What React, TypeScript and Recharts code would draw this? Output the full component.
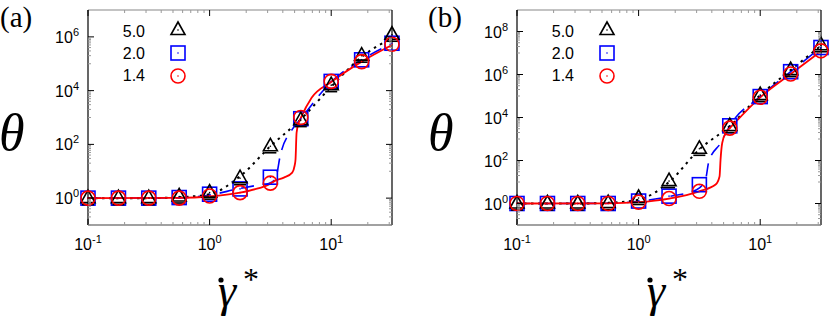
import React from "react"
import { ComposedChart, Line, Scatter, XAxis, YAxis } from "recharts"

// shear rates (quarter decades) shared by both panels
const shearRates = [0.1, 0.178, 0.316, 0.562, 1, 1.78, 3.16, 5.62, 10, 17.8, 31.6]
const seriesLabels = ["5.0", "2.0", "1.4"]

// panel (a): symbols
const thetaA50 = [1, 1, 1, 1.15, 1.6, 5.5, 85, 800, 1.6e4, 2e5, 1.2e6]
const thetaA20 = [1, 1, 1, 1.05, 1.4, 2.2, 6, 900, 2.2e4, 1.4e5, 5.8e5]
const thetaA14 = [1, 1, 1, 1, 1.2, 1.6, 3.6, 1000, 2.2e4, 1.2e5, 5.3e5]
// panel (a): fitted curves [x, y]
const fitA50 = [[0.1, 1], [0.316, 1], [0.562, 1.08], [1, 1.4], [1.78, 6.5], [3.16, 85], [5.62, 850], [10, 1.4e4], [17.8, 1.8e5], [31.6, 9e5]]
const fitA20 = [[0.1, 1], [0.562, 1.02], [1, 1.3], [1.78, 2.3], [2.26, 2.8], [3.06, 3.5], [3.47, 5], [3.83, 43], [4.78, 360], [5.62, 900], [10, 2.1e4], [17.8, 1.4e5], [31.6, 5.6e5]]
const fitA14 = [[0.1, 1], [0.562, 1.02], [1, 1.15], [1.78, 1.6], [2.5, 2.3], [3.16, 3.4], [3.38, 4.2], [4.08, 5.8], [4.78, 8.9], [5.0, 16], [5.09, 28], [5.19, 270], [5.4, 620], [5.62, 950], [6.9, 5400], [10, 2.1e4], [17.8, 1.2e5], [31.6, 5e5]]

// panel (b): symbols
const thetaB50 = [1, 1, 1, 1.05, 1.8, 11, 350, 4000, 1.1e5, 1.6e6, 2.3e7]
const thetaB20 = [1, 1, 1, 1, 1.3, 2.2, 7.5, 4100, 9.4e4, 1.35e6, 1.8e7]
const thetaB14 = [1, 1, 1, 1, 1.15, 1.7, 3.7, 3200, 8.7e4, 1.05e6, 1.26e7]
// panel (b): fitted curves
const fitB50 = [[0.1, 1], [0.316, 1], [0.562, 1.08], [1, 1.5], [1.78, 10], [3.16, 330], [5.62, 4000], [10, 1.1e5], [17.8, 1.6e6], [31.6, 2.2e7]]
const fitB20 = [[0.1, 1], [0.562, 1.02], [1, 1.25], [1.78, 2.1], [3.0, 4.4], [3.55, 13], [3.78, 91], [4.72, 640], [5.62, 4100], [10, 9.4e4], [17.8, 1.35e6], [31.6, 1.8e7]]
const fitB14 = [[0.1, 1], [0.562, 1.02], [1, 1.15], [1.78, 1.7], [3.16, 3.7], [4.3, 7.6], [4.63, 18], [4.72, 110], [4.87, 650], [5.28, 2200], [5.62, 3200], [10, 8.7e4], [17.8, 1.05e6], [31.6, 1.2e7]]

// axes
const xDomain = [0.1, 31.62]
const xMajor = [0.1, 1, 10]
const xMinor = [0.2, 0.3, 0.4, 0.5, 0.6, 0.7, 0.8, 0.9, 2, 3, 4, 5, 6, 7, 8, 9, 20, 30]
const yMajorA = [1, 1e2, 1e4, 1e6]
const yMajorB = [1, 1e2, 1e4, 1e6, 1e8]
const mults = [1, 2, 3, 4, 5, 6, 7, 8, 9]
const minorBelow = (majors: number[]) => majors.flatMap((m) => mults.map((k) => (m / 10) * k))

const W = 415
const H = 318
const COLORS = ["#000000", "#0000ff", "#ff0000"]
const SERIF = "'Liberation Serif', 'Times New Roman', serif"
const SANS = "'Liberation Sans', Arial, sans-serif"

const isMajor = (v: number, majors: number[]) => majors.some((m) => Math.abs(Math.log10(m) - Math.log10(v)) < 1e-6)

function makeTick(side: "bottom" | "top" | "left" | "right", majors: number[], withLabel: boolean) {
  return (props: any) => {
    const { x, y, payload } = props
    const v = payload.value
    const major = isMajor(v, majors)
    const len = major ? 6 : 3
    const stroke = major ? "#000" : "#999"
    const exp = Math.round(Math.log10(v))
    let l = null
    if (side === "bottom") l = <line x1={x} y1={y} x2={x} y2={y - len} stroke={stroke} />
    if (side === "top") l = <line x1={x} y1={y} x2={x} y2={y + len} stroke={stroke} />
    if (side === "left") l = <line x1={x} y1={y} x2={x + len} y2={y} stroke={stroke} />
    if (side === "right") l = <line x1={x} y1={y} x2={x - len} y2={y} stroke={stroke} />
    let label = null
    if (withLabel && major) {
      const common = { fontFamily: SANS, fontSize: 16, fill: "#000" }
      label =
        side === "bottom" ? (
          <text x={x} y={y + 24.5} textAnchor="middle" {...common}>
            <tspan>10</tspan>
            <tspan dy={-7} fontSize={11}>{exp}</tspan>
          </text>
        ) : (
          <text x={x - 9} y={y + 6} textAnchor="end" {...common}>
            <tspan>10</tspan>
            <tspan dy={-7} fontSize={11}>{exp}</tspan>
          </text>
        )
    }
    return (
      <g>
        {l}
        {label}
      </g>
    )
  }
}

function Marker({ kind, cx, cy, bar }: { kind: number; cx: number; cy: number; bar?: boolean }) {
  const c = COLORS[kind]
  if (kind === 0) {
    return (
      <g>
        <polygon points={`${cx},${cy - 8} ${cx - 7},${cy + 4.5} ${cx + 7},${cy + 4.5}`} fill="none" stroke={c} strokeWidth={1.6} />
        <circle cx={cx} cy={cy} r={0.8} fill={c} />
        {bar && <line x1={cx - 6} y1={cy + 6.5} x2={cx + 6} y2={cy + 6.5} stroke={c} strokeWidth={1.6} />}
      </g>
    )
  }
  if (kind === 1) {
    return (
      <g>
        <rect x={cx - 7} y={cy - 7} width={14} height={14} fill="none" stroke={c} strokeWidth={1.6} />
        <circle cx={cx} cy={cy} r={0.8} fill={c} />
      </g>
    )
  }
  return (
    <g>
      <circle cx={cx} cy={cy} r={7} fill="none" stroke={c} strokeWidth={1.6} />
      <circle cx={cx} cy={cy} r={0.8} fill={c} />
    </g>
  )
}

const toPoints = (ys: number[]) => shearRates.map((x, i) => ({ x, y: ys[i] }))
const toCurve = (pts: number[][]) => pts.map(([x, y]) => ({ x, y }))

interface PanelProps {
  tag: string
  left: number
  margin: { top: number; right: number; bottom: number; left: number }
  yDomain: number[]
  yMajor: number[]
  symbols: number[][]
  fits: number[][][]
}

function Panel({ tag, left, margin, yDomain, yMajor, symbols, fits }: PanelProps) {
  const yTicks = [...yMajor, ...minorBelow(yMajor)]
  const xTicks = [...xMajor, ...xMinor]
  const plotLeft = margin.left + 60
  return (
    <div style={{ position: "absolute", left, top: 0, width: W, height: H }}>
      <ComposedChart width={W} height={H} margin={margin}>
        <XAxis xAxisId={0} dataKey="x" type="number" scale="log" domain={xDomain} ticks={xTicks} interval={0}
          tickSize={0} tickMargin={0} tickLine={false} axisLine={{ stroke: "#444", strokeWidth: 1.2 }} height={30}
          tick={makeTick("bottom", xMajor, true)} />
        <XAxis xAxisId="top" orientation="top" dataKey="x" type="number" scale="log" domain={xDomain} ticks={xTicks}
          interval={0} tickSize={0} tickMargin={0} tickLine={false} axisLine={{ stroke: "#888", strokeWidth: 1.2 }} height={1}
          tick={makeTick("top", xMajor, false)} />
        <YAxis yAxisId={0} type="number" scale="log" domain={yDomain} ticks={yTicks} interval={0}
          tickSize={0} tickMargin={0} tickLine={false} axisLine={{ stroke: "#000", strokeWidth: 1.2 }} width={60}
          tick={makeTick("left", yMajor, true)} />
        <YAxis yAxisId="right" orientation="right" type="number" scale="log" domain={yDomain} ticks={yTicks}
          interval={0} tickSize={0} tickMargin={0} tickLine={false} axisLine={{ stroke: "#000", strokeWidth: 1.2 }} width={1}
          tick={makeTick("right", yMajor, false)} />
        <Line data={toCurve(fits[1])} dataKey="y" type="monotone" stroke={COLORS[1]} strokeWidth={1.6} strokeDasharray="13 9" dot={false} isAnimationActive={false} />
        <Line xAxisId="top" yAxisId="right" data={toCurve(fits[0])} dataKey="y" type="monotone" stroke={COLORS[0]} strokeWidth={2} strokeDasharray="2.5 4.5" dot={false} isAnimationActive={false} />
        <Scatter data={toPoints(symbols[1])} dataKey="y" shape={(p: any) => <Marker kind={1} cx={p.cx} cy={p.cy} />} isAnimationActive={false} />
        <Scatter data={toPoints(symbols[0])} dataKey="y" shape={(p: any) => <Marker kind={0} cx={p.cx} cy={p.cy} bar />} isAnimationActive={false} />
        <Line data={toCurve(fits[2])} dataKey="y" type="monotone" stroke={COLORS[2]} strokeWidth={1.8} dot={false} isAnimationActive={false} />
        <Scatter data={toPoints(symbols[2])} dataKey="y" shape={(p: any) => <Marker kind={2} cx={p.cx} cy={p.cy} />} isAnimationActive={false} />
      </ComposedChart>
      <svg width={W} height={H} style={{ position: "absolute", left: 0, top: 0, pointerEvents: "none" }}>
        <text x={tag === "a" ? 0 : 13} y={27} fontFamily={SERIF} fontSize={29}>
          ({tag})
        </text>
        <text x={plotLeft - 89} y={150} fontFamily={SERIF} fontStyle="italic" fontSize={52}>
          θ
        </text>
        <text x={plotLeft + 130} y={306} fontFamily={SERIF} fontStyle="italic" fontSize={46}>
          γ
        </text>
        <circle cx={plotLeft + 133} cy={280} r={2.6} fill="#000" />
        <text x={plotLeft + 155} y={290} fontFamily={SERIF} fontSize={32}>
          *
        </text>
        {seriesLabels.map((s, i) => (
          <g key={s}>
            <text x={plotLeft + 57} y={37 + i * 22} textAnchor="end" fontFamily={SANS} fontSize={16}>
              {s}
            </text>
            <Marker kind={i} cx={plotLeft + 90} cy={30 + i * 23} />
          </g>
        ))}
      </svg>
    </div>
  )
}

export default function App() {
  return (
    <div style={{ position: "absolute", left: 0, top: 0, width: 830, height: 318, background: "#fff" }}>
      <Panel tag="a" left={0} margin={{ top: 9, right: 22, bottom: 63, left: 28 }} yDomain={[0.1, 1e7]} yMajor={yMajorA}
        symbols={[thetaA50, thetaA20, thetaA14]} fits={[fitA50, fitA20, fitA14]} />
      <Panel tag="b" left={415} margin={{ top: 9, right: 8, bottom: 63, left: 42 }} yDomain={[0.1, 1e9]} yMajor={yMajorB}
        symbols={[thetaB50, thetaB20, thetaB14]} fits={[fitB50, fitB20, fitB14]} />
    </div>
  )
}
